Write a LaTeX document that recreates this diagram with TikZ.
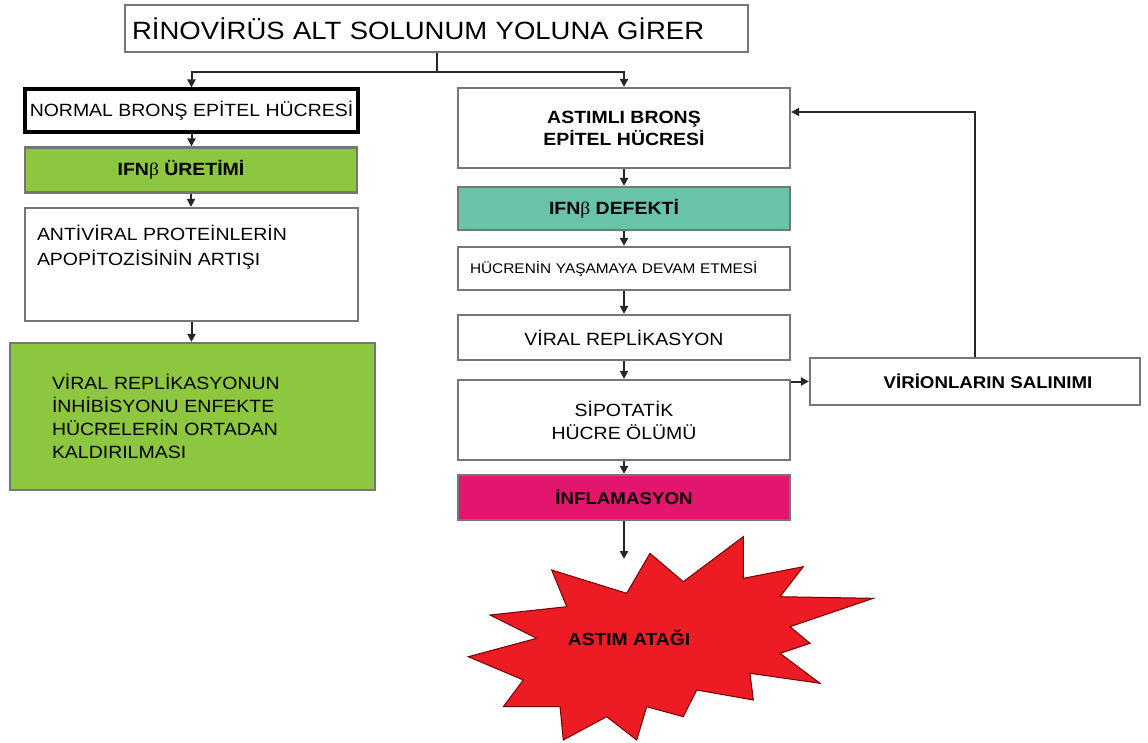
\documentclass[tikz,border=0pt]{standalone}
\usepackage{fontspec}
\setmainfont{Liberation Sans}[FakeStretch=1.1]
\newfontfamily\betafont{Liberation Serif}[FakeStretch=1.1]
\usetikzlibrary{arrows.meta}
\definecolor{lgreen}{RGB}{141,198,63}
\definecolor{tealbox}{RGB}{104,195,168}
\definecolor{magbox}{RGB}{226,22,110}
\definecolor{starred}{RGB}{237,28,36}
\definecolor{boxgray}{RGB}{118,118,118}
\newcommand{\bet}{{\betafont\mdseries β}}
\newcommand{\fs}[2]{\fontsize{#1}{#2}\selectfont}
\begin{document}
\begin{tikzpicture}[x=1pt,y=-1pt,
  box/.style={draw=boxgray, line width=2.2pt, rectangle, inner sep=0pt},
  ln/.style={draw=black!85, line width=2pt},
  arr/.style={ln, -{Triangle[length=8pt,width=8pt]}},
  reg/.style={font=\fs{17.7}{23}},
  bld/.style={font=\fs{17.7}{22}\bfseries}]
\useasboundingbox (0,0) rectangle (1148,743);
\fill[white] (0,0) rectangle (1148,743);

% top
\node[box, minimum width=623pt, minimum height=47pt, text width=609pt, align=left, font=\fs{25}{30}] (top) at (436.5,28.5) {RİNOVİRÜS ALT SOLUNUM YOLUNA GİRER};

% left column
\node[box, draw=black, line width=4pt, minimum width=333pt, minimum height=43pt, reg] (normal) at (191.5,111) {NORMAL BRONŞ EPİTEL HÜCRESİ};
\node[box, fill=lgreen, minimum width=332pt, minimum height=45pt, bld] (ifn1) at (191,170) {IFN\bet{} ÜRETİMİ\hspace*{20pt}};
\node[box, minimum width=333pt, minimum height=113pt] (anti) at (191.5,264.5)
  {\parbox[c][113pt][t]{333pt}{\fs{17.7}{25}\vspace*{17pt}\raggedright\leftskip=12pt ANTİVİRAL PROTEİNLERİN\\APOPİTOZİSİNİN ARTIŞI}};
\node[box, fill=lgreen, minimum width=365pt, minimum height=147pt, text width=281pt, align=left, reg] (elim) at (192.5,416.5)
  {VİRAL REPLİKASYONUN\\İNHİBİSYONU ENFEKTE\\HÜCRELERİN ORTADAN\\KALDIRILMASI};

% right column
\node[box, minimum width=332pt, minimum height=80pt, align=center, bld] (astimli) at (624,128) {ASTIMLI BRONŞ\\EPİTEL HÜCRESİ};
\node[box, fill=tealbox, minimum width=332pt, minimum height=43pt, bld] (defekt) at (624,208.5) {IFN\bet{} DEFEKTİ\hspace*{20pt}};
\node[box, minimum width=332pt, minimum height=43pt, text width=308pt, align=left, font=\fs{14}{17}] (hucre) at (624,268.5) {HÜCRENİN YAŞAMAYA DEVAM ETMESİ};
\node[box, minimum width=332pt, minimum height=45pt, reg] (viral) at (624,337.5) {VİRAL REPLİKASYON};
\node[box, minimum width=332pt, minimum height=80pt, align=center, reg] (sip) at (624,420) {SİPOTATİK\\HÜCRE ÖLÜMÜ};
\node[box, fill=magbox, minimum width=332pt, minimum height=45pt, font=\fs{17}{20}\bfseries] (infl) at (624,497.5) {İNFLAMASYON};
\node[box, minimum width=330pt, minimum height=47pt, font=\fs{17}{20}\bfseries] (vir) at (975,381.5) {\hspace*{26pt}VİRİONLARIN SALINIMI};

% star
\filldraw[fill=starred, draw=black!55!red, line width=1pt]
  (551.7,570) -- (626.7,593.3) -- (650,553.3) -- (683.3,581.7) -- (743.3,536.7)
  -- (743.3,578.3) -- (803.3,566.7) -- (780,596.7) -- (873.3,598.3) -- (790,626.7)
  -- (810,643.3) -- (780,653.3) -- (820,683.3) -- (750,673.3) -- (753.3,700)
  -- (696.7,690) -- (683.3,716.7) -- (646.7,706.7) -- (636.7,740) -- (606.7,716.7)
  -- (563.3,740) -- (560,706.7) -- (503.3,706.7) -- (523.3,680) -- (468.3,656.7)
  -- (536.7,638.3) -- (490,615) -- (566.7,606.7) -- cycle;
\node[font=\fs{17.5}{20}\bfseries] (astim) at (629,638) {ASTIM ATAĞI};
\coordinate (startop) at (624,559);

% connectors
\coordinate (split) at (436.5,72);
\draw[ln] (top.south) -- (split);
\draw[arr] (split) -| (normal.north);
\draw[arr] (split) -| (astimli.north);
\draw[arr] (normal.south) -- (normal.south |- ifn1.north);
\draw[arr] (ifn1.south) -- (ifn1.south |- anti.north);
\draw[arr] (anti.south) -- (anti.south |- elim.north);
\draw[arr] (astimli) -- (defekt);
\draw[arr] (defekt) -- (hucre);
\draw[arr] (hucre) -- (viral);
\draw[arr] (viral) -- (sip);
\draw[arr] (sip) -- (infl);
\draw[arr] (infl.south) -- (startop);
\draw[arr] (sip.east |- vir.west) -- (vir.west);
\draw[arr] (vir.north) |- (astimli.east |- 0,112);
\end{tikzpicture}
\end{document}
